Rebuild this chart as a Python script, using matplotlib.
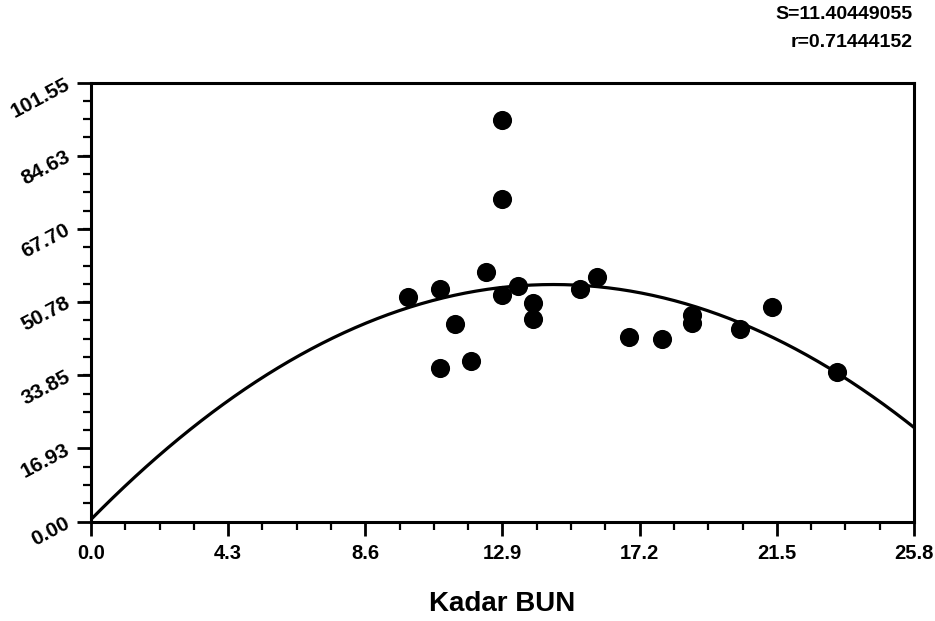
import numpy as np
import matplotlib
matplotlib.use("Agg")
import matplotlib.pyplot as plt
from matplotlib.ticker import MultipleLocator, FixedLocator

# Data titik (Kadar BUN vs nilai y)
kadar_bun = [12.89, 12.87, 9.95, 10.94, 12.37, 12.87, 13.38, 13.87, 13.86,
             11.42, 10.94, 11.91, 15.34, 15.87, 16.87, 17.89, 18.83, 18.83,
             20.34, 21.34, 23.39]
nilai_y = [92.9, 74.6, 51.9, 53.8, 57.7, 52.4, 54.5, 50.7, 46.8,
           45.7, 35.6, 37.2, 53.8, 56.5, 42.7, 42.3, 47.8, 45.9,
           44.6, 49.7, 34.7]

# Koefisien kurva kuadratik (a + b*x + c*x^2)
koef_a = 0.5
koef_b = 7.50
koef_c = -0.2587

x_ticks = [0.0, 4.3, 8.6, 12.9, 17.2, 21.5, 25.8]
y_ticks = [0.00, 16.93, 33.85, 50.78, 67.70, 84.63, 101.55]
teks_s = "S=11.40449055"
teks_r = "r=0.71444152"

plt.rcParams['font.family'] = ['Liberation Sans', 'DejaVu Sans']

fig = plt.figure(figsize=(9.35, 6.21), dpi=100)
ax = fig.add_axes([0.0973, 0.16, 0.8802, 0.7068])

xs = np.linspace(x_ticks[0], x_ticks[-1], 300)
ax.plot(xs, koef_a + koef_b * xs + koef_c * xs ** 2, color='black', lw=2.3, zorder=2)
ax.scatter(kadar_bun, nilai_y, s=190, color='black', zorder=3, linewidths=0)

ax.set_xlim(x_ticks[0], x_ticks[-1])
ax.set_ylim(y_ticks[0], y_ticks[-1])
ax.xaxis.set_major_locator(FixedLocator(x_ticks))
ax.yaxis.set_major_locator(FixedLocator(y_ticks))
ax.xaxis.set_minor_locator(MultipleLocator((x_ticks[1] - x_ticks[0]) / 4))
ax.yaxis.set_minor_locator(MultipleLocator((y_ticks[1] - y_ticks[0]) / 4))
ax.set_xticklabels([f"{v:.1f}" for v in x_ticks], fontsize=14.5, fontweight='bold')
ax.set_yticklabels([f"{v:.2f}" for v in y_ticks], fontsize=15, fontweight='bold',
                   rotation=28, rotation_mode='anchor', ha='right', va='center')

ax.tick_params(which='major', direction='out', length=10, width=2, pad=6)
ax.tick_params(which='minor', direction='out', length=6, width=1.6)
for sp in ax.spines.values():
    sp.set_linewidth(2.2)

ax.set_xlabel("Kadar BUN", fontsize=20, fontweight='bold', labelpad=20)

fig.text(0.976, 0.99, teks_s, ha='right', va='top', fontsize=14, fontweight='bold')
fig.text(0.976, 0.945, teks_r, ha='right', va='top', fontsize=14, fontweight='bold')

fig.savefig("out.png", dpi=100)
